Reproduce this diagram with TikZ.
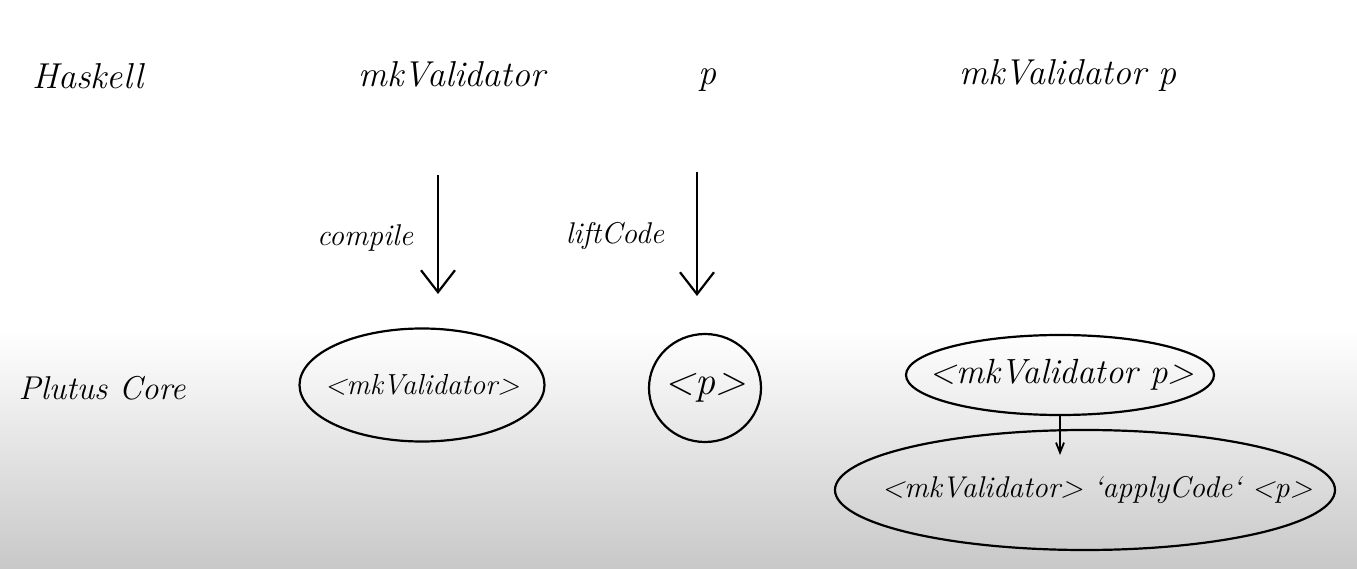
\documentclass[tikz,border=0pt]{standalone}
\usepackage{fontspec}
\usetikzlibrary{shapes.geometric,arrows.meta}
\definecolor{bggray}{RGB}{200,200,200}
\begin{document}
\begin{tikzpicture}[x=1pt,y=-1pt,
  hand/.style={font=\fontsize{36}{40}\selectfont\itshape, inner sep=0pt, anchor=center},
  handsmall/.style={font=\fontsize{30}{34}\selectfont\itshape, inner sep=0pt, anchor=center},
  blob/.style={draw, ellipse, line width=2.2pt, inner sep=0pt},
  flow/.style={line width=2.2pt, -{Straight Barb[length=22pt,width=34pt,line width=2.2pt]}},
  tinyflow/.style={line width=1.8pt, -{Straight Barb[length=10pt,width=8pt,line width=1.8pt]}}]
\useasboundingbox (0,0) rectangle (1357,569);
\fill[white] (0,0) rectangle (1357,330);
\shade[top color=white, bottom color=bggray] (0,330) rectangle (1357,569);

% Haskell row
\node[hand] (haskell) at (88,76) {Haskell};
\node[hand] (mkv) at (452,74) {mkValidator};
\node[hand] (p) at (707,80) {p};
\node[hand] (mkvp) at (1068,76) {mkValidator p};

% Plutus Core row
\node[hand, font=\fontsize{33}{36}\selectfont\itshape] (plutus) at (102,388) {Plutus Core};
\node[blob, minimum width=245pt, minimum height=113pt] (e1) at (422,385) {};
\node[blob, minimum width=112pt, minimum height=108pt] (e2) at (705,388) {};
\node[blob, minimum width=308pt, minimum height=80pt] (e3) at (1060,375) {};
\node[blob, minimum width=500pt, minimum height=120pt] (e4) at (1085,490) {};
\node[hand, font=\fontsize{29}{32}\selectfont\itshape] (t1) at (e1.center) {<mkValidator>};
\node[hand, font=\fontsize{40}{44}\selectfont\itshape] (t2) at (e2.center) {<p>};
\node[hand, font=\fontsize{35}{38}\selectfont\itshape] (t3) at ([xshift=2pt]e3.center) {<mkValidator p>};
\node[hand, font=\fontsize{30}{34}\selectfont\itshape] (t4) at ([xshift=12pt]e4.center) {<mkValidator> `applyCode` <p>};

% arrows
\coordinate (a1s) at (438,175);
\coordinate (a1e) at (438,294);
\coordinate (a2s) at (697,172);
\coordinate (a2e) at (697,296);
\draw[flow] (a1s) -- (a1e);
\draw[flow] (a2s) -- (a2e);
\node[handsmall] (compile) at (365,238) {compile};
\node[handsmall] (lift) at (615,236) {liftCode};

\coordinate (a3e) at (1060,455);
\draw[tinyflow] (e3.south) -- (a3e);
\end{tikzpicture}
\end{document}
